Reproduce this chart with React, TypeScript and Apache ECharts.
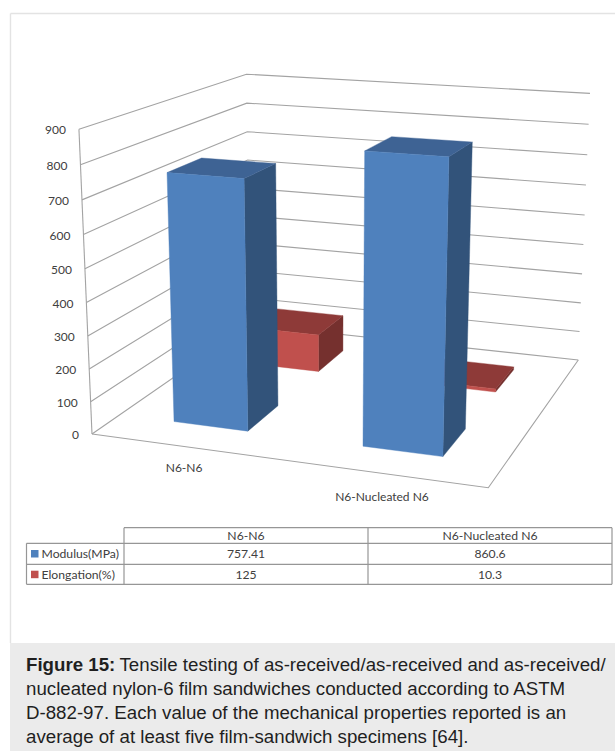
import React, { useEffect, useRef } from "react";
import * as echarts from "echarts";

const categories = ["N6-N6", "N6-Nucleated N6"];
const modulus = [757.41, 860.6];
const elongation = [125, 10.3];
const yTicks = [0, 100, 200, 300, 400, 500, 600, 700, 800, 900];
const seriesNames = ["Modulus(MPa)", "Elongation(%)"];
const captionBold = "Figure 15:";
const captionLines = [
  " Tensile testing of as-received/as-received and as-received/",
  "nucleated nylon-6 film sandwiches conducted according to ASTM",
  "D-882-97. Each value of the mechanical properties reported is an",
  "average of at least five film-sandwich specimens [64].",
];

const W = 615;
const H = 751;
const CHART_FONT = "Lato, 'Open Sans', sans-serif";
const CAPTION_FONT = "'Liberation Sans', Arial, sans-serif";
const GRID_SIZE = 400;
const Y_MAX = 900;
const BAR_FRACTION = 0.4;
const GRID_COLOR = "#a3a3a3";
const TEXT_COLOR = "#404040";
const TABLE_COLOR = "#969696";

// Floor corners on the page: front-left, front-right, back-right, back-left
const A = [92, 434];
const B = [488.3, 487.7];
const C = [578.3, 360];
const D = [250, 324.5];
const VANISH = [331, 6011];
const LAMBDA = -0.0518;

const dx1 = B[0] - C[0];
const dx2 = D[0] - C[0];
const sx = A[0] - B[0] + C[0] - D[0];
const dy1 = B[1] - C[1];
const dy2 = D[1] - C[1];
const sy = A[1] - B[1] + C[1] - D[1];
const den = dx1 * dy2 - dx2 * dy1;
const g = (sx * dy2 - dx2 * sy) / den;
const h = (dx1 * sy - sx * dy1) / den;
const a = B[0] - A[0] + g * B[0];
const b = D[0] - A[0] + h * D[0];
const d = B[1] - A[1] + g * B[1];
const e = D[1] - A[1] + h * D[1];

// x across the floor, z into the depth (both 0..1), t height (0..1)
function project(x: number, z: number, t: number): number[] {
  const w = g * x + h * z + 1 + LAMBDA * t;
  return [
    (a * x + b * z + A[0] + LAMBDA * t * VANISH[0]) / w,
    (d * x + e * z + A[1] + LAMBDA * t * VANISH[1]) / w,
  ];
}

function barRenderer(row: number, front: string, side: string, top: string) {
  return (_params: any, api: any) => {
    const p = api.coord([api.value(0), api.value(1)]);
    const band = api.size([1, 0])[0] / GRID_SIZE;
    const xc = p[0] / GRID_SIZE;
    const t = 1 - p[1] / GRID_SIZE;
    const half = (band * BAR_FRACTION) / 2;
    const zc = (row + 0.5) / 2;
    const zHalf = (0.5 * BAR_FRACTION) / 2;
    const x0 = xc - half;
    const x1 = xc + half;
    const z0 = zc - zHalf;
    const z1 = zc + zHalf;
    const face = (points: number[][], fill: string) => ({
      type: "polygon",
      shape: { points },
      style: { fill, stroke: fill, lineWidth: 0.4 },
    });
    return {
      type: "group",
      children: [
        face([project(x1, z0, 0), project(x1, z1, 0), project(x1, z1, t), project(x1, z0, t)], side),
        face([project(x0, z0, t), project(x1, z0, t), project(x1, z1, t), project(x0, z1, t)], top),
        face([project(x0, z0, 0), project(x1, z0, 0), project(x1, z0, t), project(x0, z0, t)], front),
      ],
    };
  };
}

function renderGridLine(_params: any, api: any) {
  const v = api.value(1);
  const t = 1 - api.coord([0, v])[1] / GRID_SIZE;
  const start = project(0, 0, t);
  const children: any[] = [
    {
      type: "polyline",
      shape: { points: [start, project(0, 1, t), project(1, 1, t)] },
      style: { fill: "none", stroke: GRID_COLOR, lineWidth: 1.1 },
    },
    {
      type: "text",
      style: {
        x: start[0] - 13,
        y: start[1] + 0.5,
        text: String(v),
        fill: TEXT_COLOR,
        font: `12px ${CHART_FONT}`,
        align: "right",
        verticalAlign: "middle",
      },
    },
  ];
  if (v === 0) {
    children.push({
      type: "polyline",
      shape: { points: [project(0, 0, 0), project(1, 0, 0), project(1, 1, 0)] },
      style: { fill: "none", stroke: GRID_COLOR, lineWidth: 1.1 },
    });
    children.push({
      type: "line",
      shape: {
        x1: start[0],
        y1: start[1],
        x2: project(0, 0, 1)[0],
        y2: project(0, 0, 1)[1],
      },
      style: { stroke: GRID_COLOR, lineWidth: 1.1 },
    });
  }
  return { type: "group", children };
}

function renderCategory(_params: any, api: any) {
  const i = api.value(0);
  const x = api.coord([i, 0])[0] / GRID_SIZE;
  const p = project(x, 0, 0);
  return {
    type: "text",
    style: {
      x: p[0] - 1,
      y: p[1] + 21 + i * 2.5,
      text: categories[i],
      fill: TEXT_COLOR,
      font: `12px ${CHART_FONT}`,
      align: "center",
      verticalAlign: "middle",
    },
  };
}

function tableGraphics(): any[] {
  const xs = [26.5, 124, 368, 612];
  const ys = [527.7, 543.3, 564.3, 584.3];
  const line = (x1: number, y1: number, x2: number, y2: number) => ({
    type: "line",
    shape: { x1, y1, x2, y2 },
    style: { stroke: TABLE_COLOR, lineWidth: 1.2 },
  });
  const text = (x: number, y: number, s: string, align = "center") => ({
    type: "text",
    style: {
      x,
      y,
      text: s,
      fill: TEXT_COLOR,
      font: `12.2px ${CHART_FONT}`,
      align,
      verticalAlign: "middle",
    },
  });
  const centers = [246, 490];
  const rowY = [553.5, 574.3];
  const rows = [modulus, elongation];
  const keyY = [550, 570.7];
  const keyColors = ["#4f81bd", "#c0504d"];
  const out: any[] = [
    line(xs[1], ys[0], xs[3], ys[0]),
    line(xs[0], ys[1], xs[3], ys[1]),
    line(xs[0], ys[2], xs[3], ys[2]),
    line(xs[0], ys[3], xs[3], ys[3]),
    line(xs[0], ys[1], xs[0], ys[3]),
    line(xs[1], ys[0], xs[1], ys[3]),
    line(xs[2], ys[0], xs[2], ys[3]),
    line(xs[3], ys[0], xs[3], ys[3]),
  ];
  categories.forEach((c, i) => out.push(text(centers[i], 535.7, c)));
  rows.forEach((row, r) => {
    out.push({
      type: "rect",
      shape: { x: 31, y: keyY[r], width: 7.5, height: 7.5 },
      style: { fill: keyColors[r] },
    });
    out.push(text(41.5, rowY[r], seriesNames[r], "left"));
    row.forEach((v, i) => out.push(text(centers[i], rowY[r], String(v))));
  });
  return out;
}

function frameGraphics(): any[] {
  const lineY = [664.5, 688.5, 712.5, 736];
  const capStyle = { fill: "#1f1f1f", verticalAlign: "middle" };
  const capFont = `18.7px ${CAPTION_FONT}`;
  const out: any[] = [
    {
      type: "line",
      shape: { x1: 10.5, y1: 13.5, x2: W, y2: 13.5 },
      style: { stroke: "#e3e3e3", lineWidth: 1.4 },
    },
    {
      type: "line",
      shape: { x1: 10.5, y1: 13.5, x2: 10.5, y2: 643 },
      style: { stroke: "#e3e3e3", lineWidth: 1.4 },
    },
    {
      type: "rect",
      shape: { x: 10, y: 643, width: W - 10, height: H - 643 },
      style: { fill: "#ebebeb" },
    },
    {
      type: "text",
      style: { ...capStyle, x: 26, y: lineY[0], text: captionBold, font: `bold 18.7px ${CAPTION_FONT}` },
    },
    {
      type: "text",
      style: { ...capStyle, x: 119.5, y: lineY[0], text: captionLines[0].trim(), font: capFont },
    },
  ];
  captionLines.slice(1).forEach((s, i) =>
    out.push({
      type: "text",
      style: { ...capStyle, x: 26, y: lineY[i + 1], text: s, font: capFont },
    })
  );
  return out;
}

export default function App() {
  const ref = useRef<HTMLDivElement>(null);
  useEffect(() => {
    const chart = echarts.init(ref.current!, undefined, { renderer: "svg", width: W, height: H });
    chart.setOption({
      animation: false,
      backgroundColor: "#ffffff",
      grid: { left: 0, top: 0, width: GRID_SIZE, height: GRID_SIZE, containLabel: false },
      xAxis: { type: "category", data: categories, show: false, boundaryGap: true },
      yAxis: { type: "value", min: 0, max: Y_MAX, interval: 100, show: false },
      graphic: { elements: [...frameGraphics(), ...tableGraphics()] },
      series: [
        {
          type: "custom",
          name: "grid",
          silent: true,
          data: yTicks.map((v) => [0, v]),
          encode: { x: 0, y: 1 },
          renderItem: renderGridLine,
        },
        {
          type: "custom",
          name: "categories",
          silent: true,
          data: categories.map((_, i) => [i, 0]),
          encode: { x: 0, y: 1 },
          renderItem: renderCategory,
        },
        {
          type: "custom",
          name: seriesNames[1],
          silent: true,
          data: elongation.map((v, i) => [i, v]),
          encode: { x: 0, y: 1 },
          renderItem: barRenderer(1, "#c0504d", "#75302e", "#8e3a38"),
        },
        {
          type: "custom",
          name: seriesNames[0],
          silent: true,
          data: modulus.map((v, i) => [i, v]),
          encode: { x: 0, y: 1 },
          renderItem: barRenderer(0, "#4f81bd", "#32537a", "#3e6394"),
        },
      ],
    });
    return () => chart.dispose();
  }, []);
  return (
    <div
      ref={ref}
      style={{ position: "absolute", left: 0, top: 0, width: W, height: H, overflow: "hidden" }}
    />
  );
}
